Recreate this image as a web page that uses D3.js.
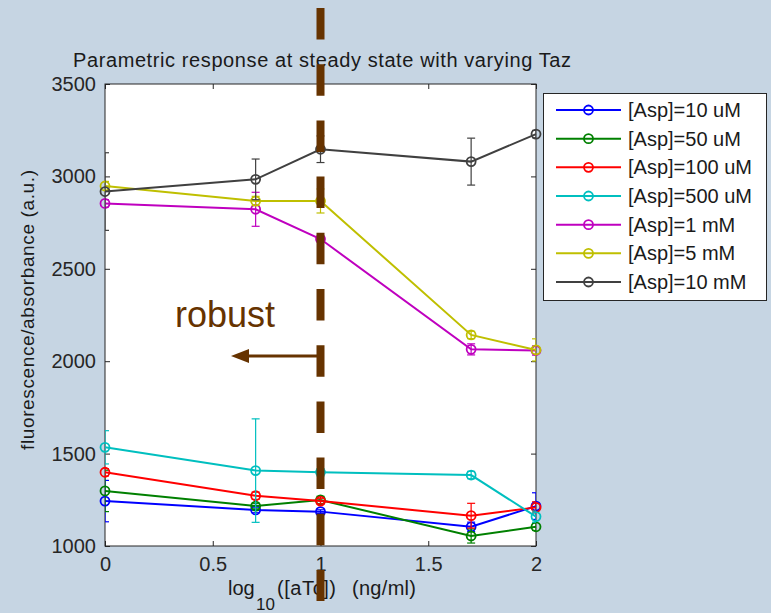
<!DOCTYPE html>
<html>
<head>
<meta charset="utf-8">
<script src="https://cdn.jsdelivr.net/npm/d3@7"></script>
<style>
  html, body { margin: 0; padding: 0; background: #c6d5e3; }
  svg { display: block; }
  text { font-family: "Liberation Sans", Arial, sans-serif; }
</style>
</head>
<body>
<svg id="chart" width="771" height="613"></svg>
<script>
// log10 of aTc concentration (1, 5, 10, 50, 100 ng/ml)
const xValues = [0, 0.699, 1, 1.699, 2];

const seriesNames = ["[Asp]=10 uM", "[Asp]=50 uM", "[Asp]=100 uM", "[Asp]=500 uM",
                     "[Asp]=1 mM", "[Asp]=5 mM", "[Asp]=10 mM"];
const seriesColors = ["#0000ff", "#008000", "#ff0000", "#00bfbf", "#bf00bf", "#bfbf00", "#404040"];

// mean fluorescence/absorbance per series
const asp10uM  = [1243, 1195, 1186, 1104, 1216];
const asp50uM  = [1298, 1216, 1249, 1054, 1104];
const asp100uM = [1399, 1272, 1243, 1164, 1209];
const asp500uM = [1534, 1408, 1399, 1384, 1159];
const asp1mM   = [2854, 2822, 2661, 2064, 2058];
const asp5mM   = [2948, 2867, 2867, 2142, 2061];
const asp10mM  = [2918, 2984, 3147, 3080, 3229];

// standard deviations
const err10uM  = [112, 15, 10, 25, 72];
const err50uM  = [112, 15, 20, 38, 20];
const err100uM = [20, 20, 15, 67, 30];
const err500uM = [90, 280, 20, 20, 30];
const err1mM   = [20, 92, 15, 30, 25];
const err5mM   = [25, 25, 65, 20, 60];
const err10mM  = [210, 110, 72, 127, 20];

const seriesValues = [asp10uM, asp50uM, asp100uM, asp500uM, asp1mM, asp5mM, asp10mM];
const seriesErrors = [err10uM, err50uM, err100uM, err500uM, err1mM, err5mM, err10mM];

const xTicks = [0, 0.5, 1, 1.5, 2];
const yTicks = [1000, 1500, 2000, 2500, 3000, 3500];

const titleText = "Parametric response at steady state with varying Taz";
const yLabelText = "fluorescence/absorbance (a.u.)";

// threshold marking the robust region
const thresholdX = 1;

const svg = d3.select("#chart");
const plot = { left: 105, right: 536, top: 84, bottom: 546 };

const x = d3.scaleLinear().domain([0, 2]).range([plot.left, plot.right]);
const y = d3.scaleLinear().domain([1000, 3500]).range([plot.bottom, plot.top]);

// plot area
svg.append("rect")
  .attr("x", plot.left).attr("y", plot.top)
  .attr("width", plot.right - plot.left).attr("height", plot.bottom - plot.top)
  .attr("fill", "#ffffff");

svg.append("defs").append("clipPath").attr("id", "plotClip")
  .append("rect")
  .attr("x", plot.left).attr("y", plot.top - 20)
  .attr("width", plot.right - plot.left).attr("height", plot.bottom - plot.top + 40);

// axes with inward ticks on all four sides
const axisColor = "#262626";
function styleAxis(g, showText) {
  g.select(".domain").remove();
  g.selectAll(".tick line").attr("stroke", axisColor).attr("stroke-width", 1);
  g.selectAll(".tick text")
    .attr("fill", axisColor)
    .style("font-size", "20px")
    .style("font-family", "'Liberation Sans', Arial, sans-serif")
    .style("display", showText ? null : "none");
}

svg.append("g").attr("transform", `translate(${plot.left},0)`)
  .call(d3.axisLeft(y).tickValues(yTicks).tickSize(-5).tickPadding(9).tickFormat(d3.format("d")))
  .call(g => styleAxis(g, true));
svg.append("g").attr("transform", `translate(${plot.right},0)`)
  .call(d3.axisRight(y).tickValues(yTicks).tickSize(-5).tickFormat(""))
  .call(g => styleAxis(g, false));
svg.append("g").attr("transform", `translate(0,${plot.bottom})`)
  .call(d3.axisBottom(x).tickValues(xTicks).tickSize(-5).tickPadding(11).tickFormat(d => d3.format("")(d)))
  .call(g => styleAxis(g, true));
svg.append("g").attr("transform", `translate(0,${plot.top})`)
  .call(d3.axisTop(x).tickValues(xTicks).tickSize(-5).tickFormat(""))
  .call(g => styleAxis(g, false));

svg.append("rect")
  .attr("x", plot.left).attr("y", plot.top)
  .attr("width", plot.right - plot.left).attr("height", plot.bottom - plot.top)
  .attr("fill", "none").attr("stroke", axisColor).attr("stroke-width", 1);

// series: error bars, lines, circle markers
const line = d3.line().x(d => x(d.x)).y(d => y(d.v));
const capHalf = 4;

seriesValues.forEach((vals, i) => {
  const color = seriesColors[i];
  const pts = vals.map((v, j) => ({ x: xValues[j], v: v, e: seriesErrors[i][j] }));
  const g = svg.append("g");

  const eb = g.append("g").attr("clip-path", "url(#plotClip)")
    .selectAll("g").data(pts).join("g")
    .attr("stroke", color).attr("stroke-width", 1.2).attr("fill", "none");
  eb.append("line")
    .attr("x1", d => x(d.x)).attr("x2", d => x(d.x))
    .attr("y1", d => y(d.v - d.e)).attr("y2", d => y(d.v + d.e));
  eb.append("line")
    .attr("x1", d => x(d.x) - capHalf).attr("x2", d => x(d.x) + capHalf)
    .attr("y1", d => y(d.v + d.e)).attr("y2", d => y(d.v + d.e));
  eb.append("line")
    .attr("x1", d => x(d.x) - capHalf).attr("x2", d => x(d.x) + capHalf)
    .attr("y1", d => y(d.v - d.e)).attr("y2", d => y(d.v - d.e));

  g.append("path").datum(pts)
    .attr("d", line).attr("fill", "none")
    .attr("stroke", color).attr("stroke-width", 2);

  g.selectAll("circle").data(pts).join("circle")
    .attr("cx", d => x(d.x)).attr("cy", d => y(d.v)).attr("r", 4.5)
    .attr("fill", "none").attr("stroke", color).attr("stroke-width", 1.8);
});

// title
svg.append("text")
  .attr("x", 322).attr("y", 67)
  .attr("text-anchor", "middle")
  .attr("fill", "#1a1a1a")
  .style("font-size", "20px")
  .attr("textLength", 498).attr("lengthAdjust", "spacing")
  .text(titleText);

// y axis label
svg.append("text")
  .attr("transform", "translate(34,310) rotate(-90)")
  .attr("text-anchor", "middle")
  .attr("fill", "#1a1a1a")
  .style("font-size", "19px")
  .attr("textLength", 280).attr("lengthAdjust", "spacing")
  .text(yLabelText);

// x axis label with subscript
const xl = svg.append("text")
  .attr("y", 595)
  .attr("fill", "#1a1a1a")
  .style("font-size", "20px");
xl.append("tspan").attr("x", 228).text("log");
xl.append("tspan").attr("x", 256).attr("dy", 15).style("font-size", "17px").text("10");
xl.append("tspan").attr("x", 277).attr("dy", -15).attr("textLength", 59).text("([aTc])");
xl.append("tspan").attr("x", 352).attr("textLength", 64).text("(ng/ml)");

// legend
const lg = svg.append("g");
lg.append("rect")
  .attr("x", 543.5).attr("y", 93.5).attr("width", 223).attr("height", 207)
  .attr("fill", "#ffffff").attr("stroke", axisColor).attr("stroke-width", 1);
const rowY = d3.scaleLinear().domain([0, 6]).range([110, 282]);
seriesNames.forEach((name, i) => {
  const yy = rowY(i);
  lg.append("line").attr("x1", 556).attr("x2", 621).attr("y1", yy).attr("y2", yy)
    .attr("stroke", seriesColors[i]).attr("stroke-width", 2);
  lg.append("circle").attr("cx", 588.5).attr("cy", yy).attr("r", 4.5)
    .attr("fill", "none").attr("stroke", seriesColors[i]).attr("stroke-width", 1.8);
  lg.append("text").attr("x", 628).attr("y", yy + 7)
    .attr("fill", "#1a1a1a").style("font-size", "20px")
    .text(name);
});

// robust region annotation
const brown = "#663300";
svg.append("text")
  .attr("x", 175).attr("y", 327)
  .attr("fill", brown)
  .style("font-size", "36px")
  .text("robust");

const arrowY = 356;
svg.append("line")
  .attr("x1", x(thresholdX) - 3).attr("x2", 245)
  .attr("y1", arrowY).attr("y2", arrowY)
  .attr("stroke", brown).attr("stroke-width", 3);
svg.append("path")
  .attr("d", `M231,${arrowY} L249,${arrowY - 7} L249,${arrowY + 7} Z`)
  .attr("fill", brown);

// threshold dashed line
svg.append("line")
  .attr("x1", x(thresholdX)).attr("x2", x(thresholdX))
  .attr("y1", 8).attr("y2", 601)
  .attr("stroke", brown).attr("stroke-width", 8)
  .attr("stroke-dasharray", "31.5,24.7");
</script>
</body>
</html>
